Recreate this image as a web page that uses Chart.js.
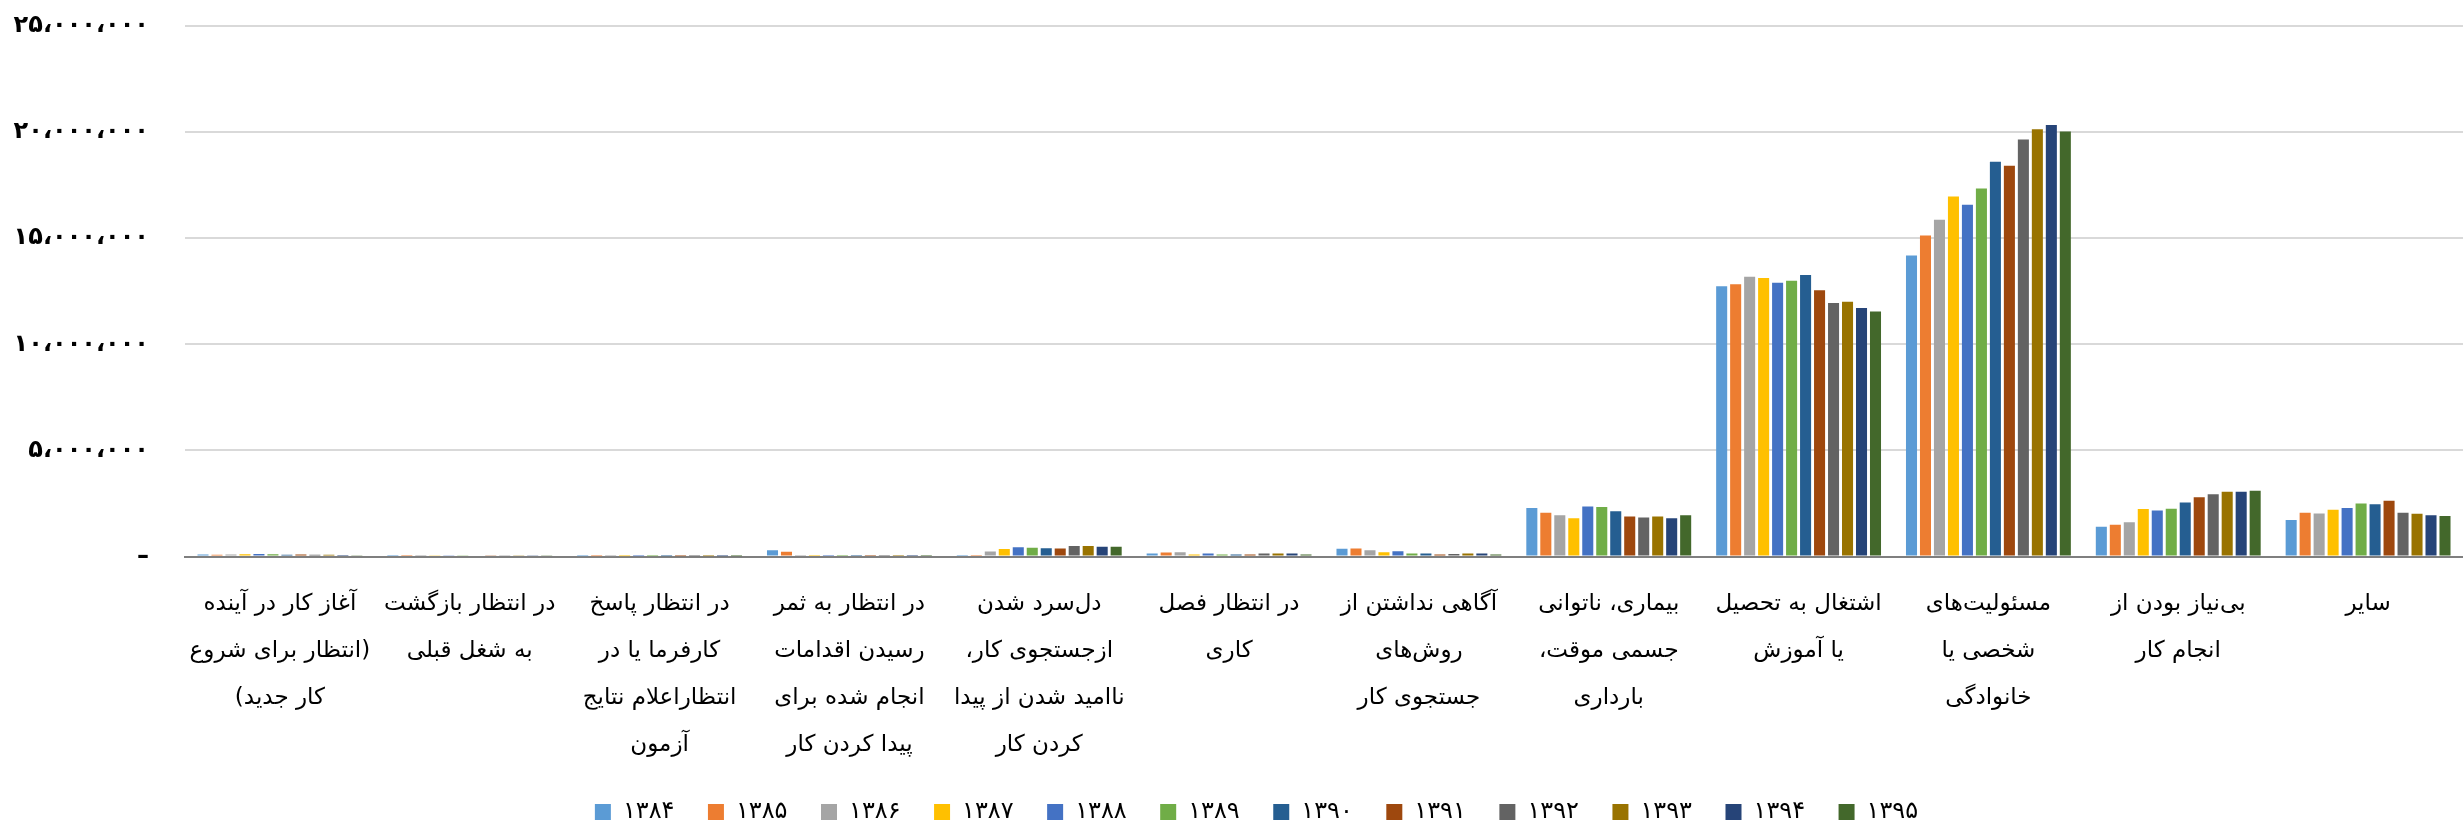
<!DOCTYPE html>
<html>
<head>
<meta charset="utf-8">
<script src="https://cdn.jsdelivr.net/npm/chart.js@4/dist/chart.umd.min.js"></script>
<style>
html,body{margin:0;padding:0;background:#fff;}
#wrap{width:2463px;height:822px;position:relative;}
</style>
</head>
<body>
<div id="wrap"><canvas id="c" dir="rtl"></canvas></div>
<script>
const categories = [
  ["آغاز کار در آینده", "(انتظار برای شروع", "کار جدید)"],
  ["در انتظار بازگشت", "به شغل قبلی"],
  ["در انتظار پاسخ", "کارفرما یا در", "انتظاراعلام نتایج", "آزمون"],
  ["در انتظار به ثمر", "رسیدن اقدامات", "انجام شده برای", "پیدا کردن کار"],
  ["دل‌سرد شدن", "ازجستجوی کار،", "ناامید شدن از پیدا", "کردن کار"],
  ["در انتظار فصل", "کاری"],
  ["آگاهی نداشتن از", "روش‌های", "جستجوی کار"],
  ["بیماری، ناتوانی", "جسمی موقت،", "بارداری"],
  ["اشتغال به تحصیل", "یا آموزش"],
  ["مسئولیت‌های", "شخصی یا", "خانوادگی"],
  ["بی‌نیاز بودن از", "انجام کار"],
  ["سایر"]
];
const seriesNames = ["۱۳۸۴","۱۳۸۵","۱۳۸۶","۱۳۸۷","۱۳۸۸","۱۳۸۹","۱۳۹۰","۱۳۹۱","۱۳۹۲","۱۳۹۳","۱۳۹۴","۱۳۹۵"];
const v1384 = [90000, 20000, 10000, 300000, 20000, 140000, 360000, 2280000, 12740000, 14180000, 1400000, 1720000];
const v1385 = [80000, 20000, 10000, 220000, 20000, 190000, 380000, 2060000, 12830000, 15130000, 1500000, 2060000];
const v1386 = [90000, 20000, 10000, 20000, 240000, 200000, 300000, 1940000, 13180000, 15870000, 1610000, 2030000];
const v1387 = [110000, 30000, 10000, 20000, 350000, 90000, 200000, 1800000, 13120000, 16960000, 2240000, 2200000];
const v1388 = [120000, 40000, 10000, 20000, 440000, 140000, 250000, 2360000, 12900000, 16580000, 2170000, 2280000];
const v1389 = [110000, 40000, 10000, 20000, 410000, 100000, 140000, 2330000, 12990000, 17340000, 2250000, 2500000];
const v1390 = [80000, 50000, 10000, 20000, 390000, 100000, 140000, 2130000, 13270000, 18600000, 2540000, 2460000];
const v1391 = [90000, 30000, 10000, 20000, 380000, 100000, 100000, 1880000, 12550000, 18410000, 2790000, 2630000];
const v1392 = [80000, 30000, 10000, 20000, 490000, 140000, 120000, 1840000, 11950000, 19650000, 2930000, 2060000];
const v1393 = [80000, 30000, 10000, 20000, 490000, 140000, 140000, 1890000, 12000000, 20140000, 3050000, 2020000];
const v1394 = [70000, 30000, 10000, 20000, 460000, 140000, 140000, 1800000, 11710000, 20330000, 3050000, 1940000];
const v1395 = [40000, 30000, 10000, 20000, 460000, 100000, 100000, 1940000, 11540000, 20030000, 3100000, 1910000];
const seriesValues = [v1384, v1385, v1386, v1387, v1388, v1389, v1390, v1391, v1392, v1393, v1394, v1395];
const colors = ["#5B9BD5","#ED7D31","#A5A5A5","#FFC000","#4472C4","#70AD47","#255E91","#9E480E","#636363","#997300","#264478","#43682B"];

const faDigits = "۰۱۲۳۴۵۶۷۸۹";
function toFa(n){
  if (n === 0) return "–";
  const s = Math.round(n).toString().replace(/\B(?=(\d{3})+(?!\d))/g, "،");
  return s.replace(/\d/g, d => faDigits[+d]);
}

const FONT = "'DejaVu Sans', sans-serif";
const datasets = seriesNames.map((name, i) => ({
  label: name,
  data: seriesValues[i],
  backgroundColor: colors[i],
  borderWidth: 0,
  categoryPercentage: 0.884,
  barPercentage: 0.79
}));

const legendShift = {
  id: 'legendShift',
  afterLayout(chart) {
    const l = chart.legend;
    if (l) { l.left += 25; l.right += 25; }
  }
};

new Chart(document.getElementById('c'), {
  type: 'bar',
  data: { labels: categories, datasets },
  plugins: [legendShift],
  options: {
    responsive: true,
    maintainAspectRatio: false,
    animation: false,
    layout: { padding: { top: 26, right: 0, left: 0, bottom: -12 } },
    plugins: {
      tooltip: { enabled: false },
      legend: {
        position: 'bottom',
        labels: {
          boxWidth: 16, boxHeight: 16,
          padding: 33.5,
          color: '#000',
          font: { family: FONT, size: 24 }
        }
      }
    },
    scales: {
      x: {
        afterFit: (s) => { s.height = 210; s.paddingLeft = 0; s.paddingRight = 0; },
        grid: { display: false, drawTicks: false },
        border: { display: true, color: '#7F7F7F', width: 2 },
        ticks: {
          color: '#000',
          padding: 24,
          maxRotation: 0, minRotation: 0, autoSkip: false,
          font: { family: FONT, size: 23, lineHeight: 2.04 }
        }
      },
      y: {
        min: 0, max: 25000000,
        afterFit: (s) => { s.width = 185; s.paddingTop = 0; s.paddingBottom = 0; },
        grid: { color: '#D9D9D9', lineWidth: 2, drawTicks: false },
        border: { display: false },
        ticks: {
          stepSize: 5000000,
          padding: 36,
          color: '#000',
          font: { family: FONT, size: 24, weight: 'bold' },
          callback: (v) => toFa(v)
        }
      }
    }
  }
});
</script>
</body>
</html>
